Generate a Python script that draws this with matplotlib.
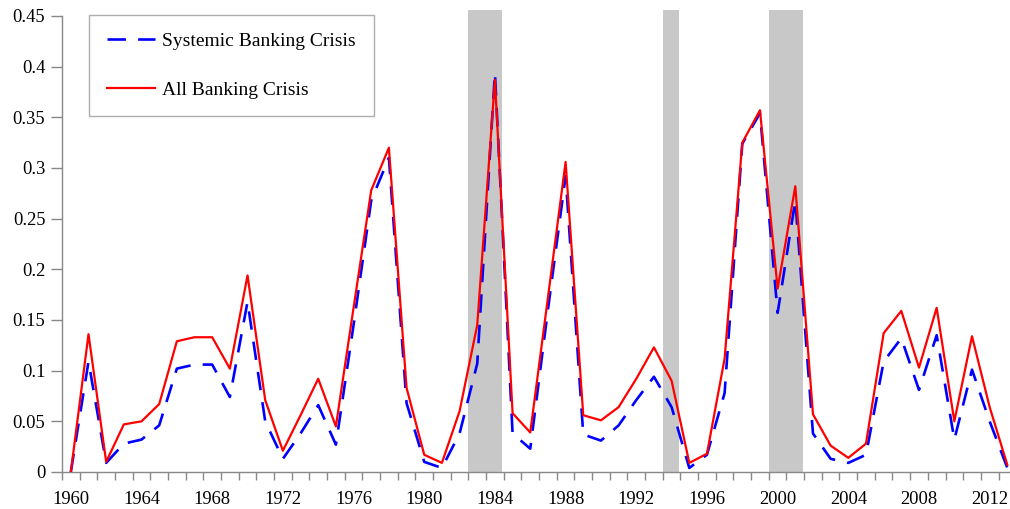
import matplotlib.pyplot as plt
from matplotlib.ticker import FixedLocator

plt.switch_backend('Agg')
plt.rcParams['font.family'] = ['Liberation Serif', 'DejaVu Serif']

# Annual data, 1960-2013
years = list(range(1960, 2014))

systemic = [0.000, 0.109, 0.009, 0.028, 0.032, 0.046, 0.102, 0.106, 0.106, 0.074,
            0.168, 0.050, 0.013, 0.038, 0.066, 0.027, 0.145, 0.268, 0.310, 0.068,
            0.010, 0.004, 0.038, 0.107, 0.394, 0.038, 0.023, 0.160, 0.292, 0.037,
            0.031, 0.046, 0.071, 0.094, 0.064, 0.004, 0.017, 0.078, 0.324, 0.354,
            0.157, 0.268, 0.038, 0.013, 0.009, 0.017, 0.109, 0.132, 0.081, 0.135,
            0.032, 0.101, 0.050, 0.004]

all_crisis = [0.000, 0.136, 0.010, 0.047, 0.050, 0.067, 0.129, 0.133, 0.133, 0.102,
              0.194, 0.071, 0.021, 0.056, 0.092, 0.045, 0.162, 0.278, 0.320, 0.083,
              0.017, 0.009, 0.060, 0.145, 0.387, 0.058, 0.039, 0.172, 0.306, 0.056,
              0.051, 0.064, 0.092, 0.123, 0.090, 0.009, 0.018, 0.112, 0.325, 0.357,
              0.181, 0.282, 0.057, 0.026, 0.014, 0.028, 0.137, 0.159, 0.103, 0.162,
              0.050, 0.134, 0.064, 0.007]

y_ticks = [0, 0.05, 0.1, 0.15, 0.2, 0.25, 0.3, 0.35, 0.4, 0.45]
y_labels = ['0', '0.05', '0.1', '0.15', '0.2', '0.25', '0.3', '0.35', '0.4', '0.45']

# shaded periods (start, end) in year units
shaded = [(1982.45, 1984.42), (1993.53, 1994.44), (1999.5, 2001.45)]

fig = plt.figure(figsize=(10.10, 5.09), dpi=100)
ax = fig.add_axes([62 / 1010, 37 / 509, 948 / 1010, 456 / 509])

for start, end in shaded:
    ax.fill_between([start, end], 0, 0.4555, color='#c8c8c8', lw=0,
                    clip_on=False, zorder=1)

ax.plot(years, systemic, color='#0000ff', lw=1.9, dashes=(7, 4.6),
        label='Systemic Banking Crisis', zorder=3)
ax.plot(years, all_crisis, color='#ff0000', lw=1.6,
        label='All Banking Crisis', zorder=4)

ax.set_xlim(1959.5, 1959.5 + 948 / 17.67)
ax.set_ylim(0, 0.45)

ax.set_yticks(y_ticks)
ax.set_yticklabels(y_labels)

# x axis: labels every 4 years, tick marks between categories
ax.xaxis.set_major_locator(FixedLocator(list(range(1960, 2014, 4))))
ax.xaxis.set_minor_locator(FixedLocator([y + 0.5 for y in range(1959, 2014)]))
ax.tick_params(axis='x', which='major', length=0, pad=14, labelsize=13.3)
ax.tick_params(axis='x', which='minor', length=6, width=1, color='#888888', direction='out')
ax.tick_params(axis='y', which='major', length=8, width=1, color='#888888',
               direction='out', labelsize=13.3, pad=4)

for side in ['top', 'right']:
    ax.spines[side].set_visible(False)
for side in ['left', 'bottom']:
    ax.spines[side].set_color('#888888')
    ax.spines[side].set_linewidth(1)

leg = ax.legend(loc='upper left', bbox_to_anchor=(27 / 948, 1.002), fontsize=14,
                frameon=True, fancybox=False, edgecolor='#999999',
                handlelength=2.47, handletextpad=0.41, labelspacing=1.58,
                borderpad=0.9, borderaxespad=0)
leg.get_frame().set_linewidth(1)

fig.savefig('out.png', dpi=100)
plt.close()
